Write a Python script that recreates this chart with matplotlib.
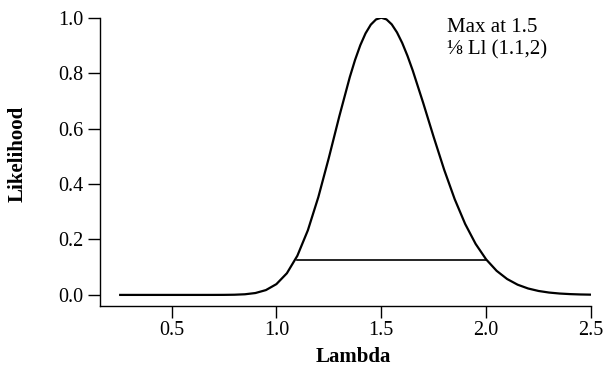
import matplotlib.pyplot as plt

# relative likelihood
lam = [0.25, 0.30, 0.35, 0.40, 0.45, 0.50, 0.55, 0.60, 0.65, 0.70, 0.75,
       0.80, 0.85, 0.90, 0.95, 1.00, 1.05, 1.10, 1.15, 1.20, 1.25, 1.30,
       1.35, 1.375, 1.40, 1.425, 1.45, 1.475, 1.50, 1.525, 1.55, 1.575,
       1.60, 1.625, 1.65, 1.70, 1.75, 1.80, 1.85, 1.90, 1.95, 2.00, 2.05,
       2.10, 2.15, 2.20, 2.25, 2.30, 2.35, 2.40, 2.45, 2.50]
lik = [0.0, 0.0, 0.0, 0.0, 0.0, 0.0, 0.0, 0.0, 0.0, 0.00003, 0.00017,
       0.00068, 0.0023, 0.0068, 0.0174, 0.0389, 0.0781, 0.1413, 0.2330, 0.3529, 0.4944, 0.6444,
       0.7857, 0.8475, 0.9006, 0.9435, 0.9748, 0.9937, 1.0, 0.9938, 0.9759, 0.9470,
       0.9087, 0.8624, 0.8097, 0.6924, 0.5694, 0.4514, 0.3456, 0.2560, 0.1839, 0.1282, 0.0869,
       0.0574, 0.0369, 0.0232, 0.0142, 0.0085, 0.0050, 0.0029, 0.0016, 0.0009]

# 1/8 likelihood interval
interval = [1.1, 2.0]
cut = 0.125
max_at = 1.5

xticks = [0.5, 1.0, 1.5, 2.0, 2.5]
yticks = [0.0, 0.2, 0.4, 0.6, 0.8, 1.0]

plt.rcParams['font.family'] = ['Liberation Serif', 'DejaVu Serif']

fig = plt.figure(figsize=(6.07, 3.70), dpi=100)
ax = fig.add_axes([100/607, 64/370, 491/607, 288.3/370])

ax.plot(lam, lik, color="black", lw=1.6, solid_capstyle="butt")
ax.plot(interval, [cut, cut], color="black", lw=1.2)

ax.set_xlim(0.159, 2.5)
ax.set_ylim(-0.04, 1.0)
ax.set_xticks(xticks)
ax.set_xticklabels(["%.1f" % v for v in xticks])
ax.set_yticks(yticks)
ax.set_yticklabels(["%.1f" % v for v in yticks])

for s in ["top", "right"]:
    ax.spines[s].set_visible(False)
for s in ["left", "bottom"]:
    ax.spines[s].set_linewidth(1.0)
ax.tick_params(length=8.5, width=1.0, labelsize=14.5)
ax.tick_params(axis="x", pad=2)
ax.tick_params(axis="y", pad=3.5)

ax.text(1.812, 0.9495, "Max at %.1f" % max_at, fontsize=15, ha="left", va="baseline")
ax.text(1.812, 0.868, "\u215b Ll (%.1f,%g)" % (interval[0], interval[1]),
        fontsize=15, ha="left", va="baseline")

fig.text(18/607, 1 - 154/370, "Likelihood", rotation=90, fontsize=15,
         fontweight="bold", ha="center", va="center")
fig.text(353/607, 1 - 357.5/370, "Lambda", fontsize=15, fontweight="bold",
         ha="center", va="center")

fig.savefig("out.png", dpi=100)
